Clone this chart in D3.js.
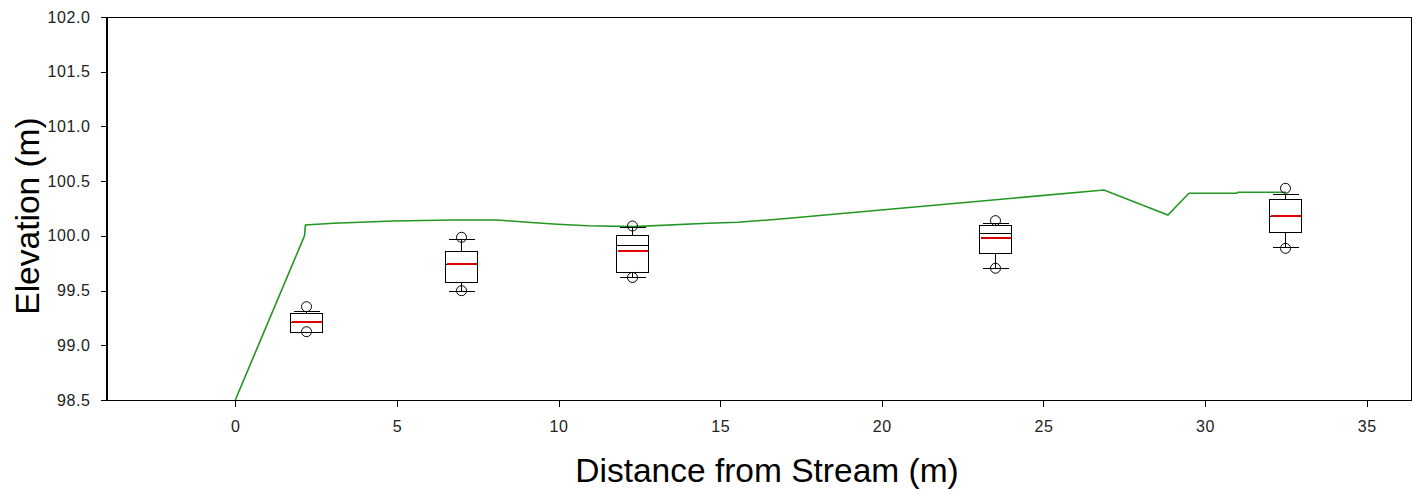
<!DOCTYPE html>
<html>
<head>
<meta charset="utf-8">
<script src="https://cdn.jsdelivr.net/npm/d3@7"></script>
<style>
  html, body { margin: 0; padding: 0; background: #fff; }
  svg { display: block; }
  .tick-label { font-family: "Liberation Sans", Arial, sans-serif; font-size: 16px; letter-spacing: 0.6px; fill: #222; }
  .axis-title { font-family: "Liberation Sans", Arial, sans-serif; font-size: 33.5px; fill: #000; }
</style>
</head>
<body>
<svg id="chart" width="1414" height="495"></svg>
<script>
// Ground surface profile along the transect
const profileDist = [0, 2.14, 2.17, 3.03, 4.89, 6.72, 8.11, 9.04, 9.97, 10.9, 12.32, 14.61, 15.54, 16.87, 26.87, 28.85, 29.5, 30.96, 31.02, 32.5];
const profileElev = [98.5, 100.0, 100.10, 100.115, 100.136, 100.145, 100.145, 100.124, 100.106, 100.093, 100.084, 100.115, 100.124, 100.154, 100.419, 100.191, 100.389, 100.389, 100.398, 100.398];

// Water-table elevation summaries at each well
const wellDist   = [2.2, 6.98, 12.28, 23.5, 32.47];
const wellQ1     = [99.125, 99.581, 99.672, 99.841, 100.033];
const wellMedian = [99.213, 99.743, 99.917, 100.023, 100.181];
const wellQ3     = [99.298, 99.864, 100.008, 100.099, 100.337];
const wellMean   = [99.213, 99.743, 99.864, 99.978, 100.181];
const wellLowW   = [99.12, 99.499, 99.627, 99.704, 99.896];
const wellHighW  = [99.31, 99.971, 100.078, 100.12, 100.383];
const wellOutLo  = [99.124, 99.499, 99.62, 99.704, 99.886];
const wellOutHi  = [99.353, 99.987, 100.09, 100.139, 100.435];

const xTicks = [0, 5, 10, 15, 20, 25, 30, 35];
const yTicks = [98.5, 99.0, 99.5, 100.0, 100.5, 101.0, 101.5, 102.0];

const svg = d3.select("#chart");
const plotLeft = 106, plotRight = 1412, plotTop = 17, plotBottom = 400;

const x = d3.scaleLinear().domain([-4, 36.4]).range([plotLeft, plotRight]);
const y = d3.scaleLinear().domain([98.5, 102]).range([plotBottom, plotTop]);
const py = v => Math.round(y(v)) + 0.5;

// Frame
svg.append("rect")
  .attr("x", plotLeft + 0.5).attr("y", plotTop + 0.5)
  .attr("width", plotRight - plotLeft - 1).attr("height", plotBottom - plotTop)
  .attr("fill", "none").attr("stroke", "#000").attr("stroke-width", 1)
  .attr("shape-rendering", "crispEdges");

// Y axis
const yAxis = d3.axisLeft(y).tickValues(yTicks).tickSize(6).tickPadding(10).tickFormat(d3.format(".1f"));
const gy = svg.append("g").attr("transform", `translate(${plotLeft + 0.5},0)`).call(yAxis);
gy.attr("font-size", null).attr("font-family", null).attr("shape-rendering", "crispEdges");
gy.select(".domain").attr("stroke", "#000");
gy.selectAll(".tick line").attr("stroke", "#000");
gy.selectAll(".tick text").attr("class", "tick-label");

// X axis
const xAxis = d3.axisBottom(x).tickValues(xTicks).tickSize(6).tickPadding(14).tickFormat(d3.format("d"));
const gx = svg.append("g").attr("transform", `translate(0,${plotBottom + 0.5})`).call(xAxis);
gx.attr("font-size", null).attr("font-family", null).attr("shape-rendering", "crispEdges");
gx.select(".domain").remove();
gx.selectAll(".tick line").attr("stroke", "#000");
gx.selectAll(".tick text").attr("class", "tick-label");

// Ground profile line
const line = d3.line().x((d, i) => x(profileDist[i])).y(d => y(d));
svg.append("path")
  .datum(profileElev)
  .attr("d", line)
  .attr("fill", "none")
  .attr("stroke", "#249624")
  .attr("stroke-width", 1.6);

// Box plots
const boxW = Math.round(x(1) - x(0));
const capW = Math.round(x(0.8) - x(0));
const boxes = svg.append("g");
wellDist.forEach((d, i) => {
  const cx = Math.round(x(d)) + 0.5;
  const g = boxes.append("g").attr("stroke", "#000").attr("stroke-width", 1).attr("fill", "none");
  const crisp = sel => sel.attr("shape-rendering", "crispEdges");
  // whiskers
  crisp(g.append("line").attr("x1", cx).attr("x2", cx).attr("y1", py(wellQ3[i])).attr("y2", py(wellHighW[i])));
  crisp(g.append("line").attr("x1", cx).attr("x2", cx).attr("y1", py(wellQ1[i])).attr("y2", py(wellLowW[i])));
  crisp(g.append("line").attr("x1", cx - capW / 2).attr("x2", cx + capW / 2).attr("y1", py(wellHighW[i])).attr("y2", py(wellHighW[i])));
  crisp(g.append("line").attr("x1", cx - capW / 2).attr("x2", cx + capW / 2).attr("y1", py(wellLowW[i])).attr("y2", py(wellLowW[i])));
  // box
  crisp(g.append("rect")
    .attr("x", cx - boxW / 2).attr("width", boxW)
    .attr("y", py(wellQ3[i])).attr("height", py(wellQ1[i]) - py(wellQ3[i]))
    .attr("fill", "#fff"));
  // median
  crisp(g.append("line").attr("x1", cx - boxW / 2).attr("x2", cx + boxW / 2).attr("y1", py(wellMedian[i])).attr("y2", py(wellMedian[i])));
  // mean
  crisp(g.append("line").attr("x1", cx - boxW / 2 + 1).attr("x2", cx + boxW / 2 - 1).attr("y1", Math.round(y(wellMean[i]))).attr("y2", Math.round(y(wellMean[i])))
    .attr("stroke", "#e00000").attr("stroke-width", 2));
  // outlying values
  g.append("circle").attr("cx", cx).attr("cy", y(wellOutHi[i])).attr("r", 5);
  g.append("circle").attr("cx", cx).attr("cy", y(wellOutLo[i])).attr("r", 5);
});

// Axis titles
svg.append("text").attr("class", "axis-title")
  .attr("x", (plotLeft + plotRight) / 2 + 8).attr("y", 482)
  .attr("text-anchor", "middle")
  .text("Distance from Stream (m)");
svg.append("text").attr("class", "axis-title")
  .attr("transform", "translate(39,216) rotate(-90)")
  .attr("text-anchor", "middle")
  .text("Elevation (m)");
</script>
</body>
</html>
